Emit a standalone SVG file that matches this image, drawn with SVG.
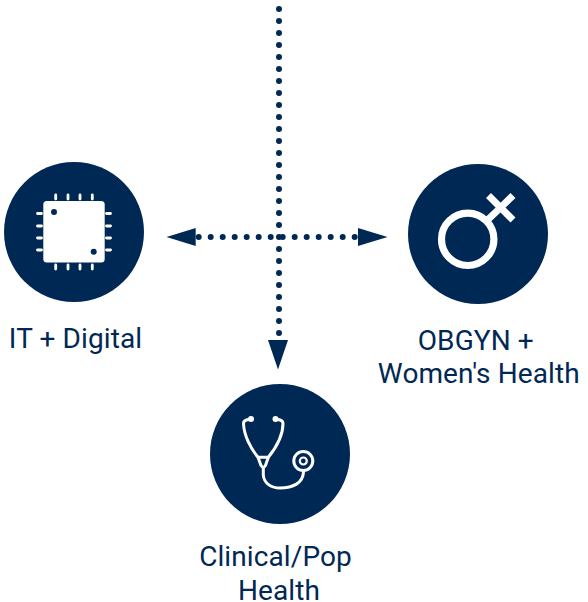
<svg xmlns="http://www.w3.org/2000/svg" width="588" height="602" viewBox="0 0 588 602">
<style>
.disc{fill:#002855}
.lbl{font-family:Roboto,"Liberation Sans",sans-serif;font-size:28px;letter-spacing:0.1px;fill:#002855;text-anchor:middle}
.dots{fill:none;stroke:#002855;stroke-width:6;stroke-linecap:round;stroke-dasharray:0 12}
.head{fill:#002855;stroke:none}
.pin{stroke:#fff;stroke-width:2.8;stroke-linecap:round;fill:none}
.ln{stroke:#fff;fill:none;stroke-linecap:round;stroke-linejoin:round;stroke-width:3}
</style>
<g id="connectors">
<path class="dots" d="M279 9V333.500"/>
<path class="dots" d="M198.700 237H355"/>
<path class="head" d="M166.500 237L195.700 228V246Z"/>
<path class="head" d="M387.500 237L358 228V246Z"/>
<path class="head" d="M278 369.500L268 340H288Z"/>
</g>
<g id="it-digital">
<circle class="disc" cx="74" cy="232" r="70"/>
<rect x="43.300" y="201" width="61.400" height="61.400" rx="3.500" fill="#fff"/>
<circle cx="54" cy="212" r="3" fill="#002855"/>
<circle cx="93.700" cy="251.700" r="3" fill="#002855"/>
<path class="pin" d="M55.700 195V199M68 195V199M80 195V199M92.300 195V199M55.700 265V269M68 265V269M80 265V269M92.300 265V269M37.500 213.500H41.500M37.500 226H41.500M37.500 238H41.500M37.500 250H41.500M106.500 213.500H110.500M106.500 226H110.500M106.500 238H110.500M106.500 250H110.500"/>
<text class="lbl" x="75.500" y="348">IT + Digital</text>
</g>
<g id="obgyn">
<circle class="disc" cx="478" cy="234" r="70"/>
<circle cx="467.700" cy="239.300" r="26.200" fill="none" stroke="#fff" stroke-width="7.200"/>
<path d="M488 219.500L500.700 207.500M488.500 195.500L513 220M513 195.500L500.700 207.500" fill="none" stroke="#fff" stroke-width="7"/>
<text class="lbl" x="475.800" y="350">OBGYN +</text>
<text class="lbl" x="478.800" y="383">Women's Health</text>
</g>
<g id="clinical">
<circle class="disc" cx="280" cy="454" r="70"/>
<circle cx="251" cy="419" r="3" fill="#fff"/>
<circle cx="275.500" cy="419" r="3" fill="#fff"/>
<path class="ln" d="M250 419.500C247 419.500 243.500 420 243.500 423.500C244 436 251 449 258 457.300H268.300C275 449 283 436 283 423.500C283 420 279.500 419.500 276.500 419.500"/>
<path class="ln" d="M258 457.300L261 465.500Q263.300 469 265.500 465.500L268.300 457.300"/>
<path class="ln" d="M263.300 468V475C264 484 272 488 280 488C293 488 303 483 303.500 472"/>
<circle cx="303.300" cy="461" r="9.500" fill="none" stroke="#fff" stroke-width="3"/>
<circle cx="303.300" cy="461" r="3.500" fill="none" stroke="#fff" stroke-width="2.200"/>
<text class="lbl" x="275.500" y="566">Clinical/Pop</text>
<text class="lbl" x="279" y="599.500">Health</text>
</g>
</svg>
